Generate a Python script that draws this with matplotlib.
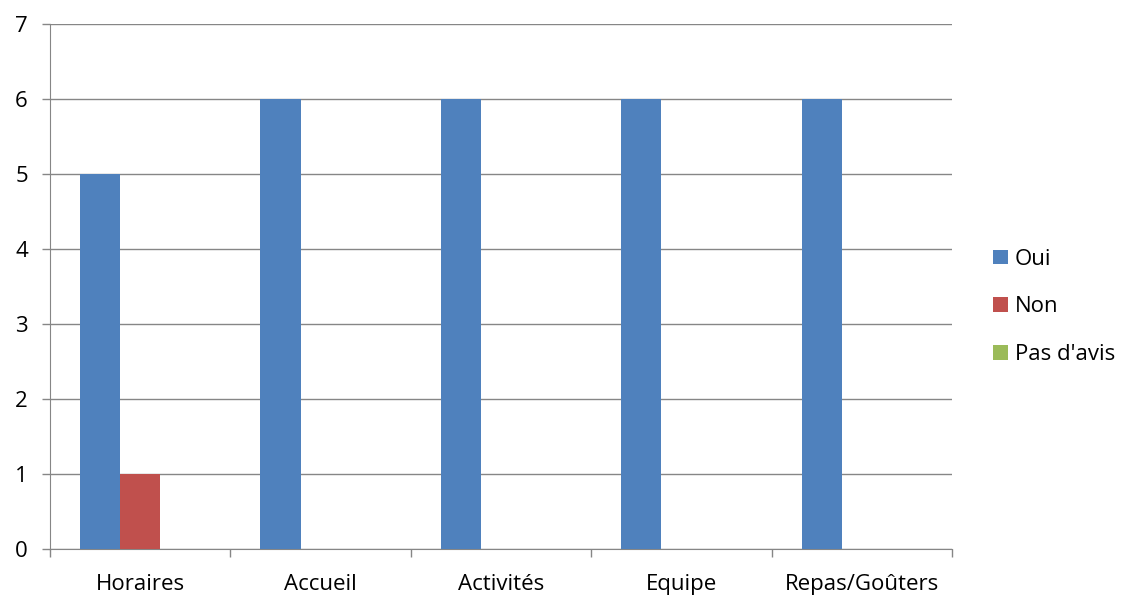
import numpy as np
import matplotlib
matplotlib.use("Agg")
from matplotlib import pyplot as plt
from matplotlib.patches import Patch

# data
categories = ["Horaires", "Accueil", "Activités", "Equipe", "Repas/Goûters"]
oui = [5, 6, 6, 6, 6]
non = [1, 0, 0, 0, 0]
pas_avis = [0, 0, 0, 0, 0]
series_names = ["Oui", "Non", "Pas d'avis"]
colors = ["#4F81BD", "#C0504D", "#9BBB59"]

plt.rcParams['font.family'] = ['Open Sans', 'DejaVu Sans']
fs = 16

fig = plt.figure(figsize=(11.24, 5.96), dpi=100)
ax = fig.add_axes([50 / 1124, 47 / 596, 902 / 1124, 525 / 596])

x = np.arange(len(categories))
w = 2 / 9
for k, (vals, col) in enumerate(zip([oui, non, pas_avis], colors)):
    ax.bar(x + (k - 1) * w, vals, width=w, color=col, zorder=3)

ax.set_xlim(-0.5, len(categories) - 0.5)
ax.set_ylim(0, 7)
ax.set_yticks(range(8))
ax.yaxis.grid(True, color="#868686", linewidth=1, zorder=0)

# category labels between boundary ticks
ax.set_xticks(np.arange(len(categories) + 1) - 0.5)
ax.set_xticklabels([])
ax.set_xticks(x, minor=True)
ax.set_xticklabels(categories, minor=True)
ax.tick_params(axis="x", which="minor", length=0, pad=18, labelsize=fs)
ax.tick_params(axis="x", which="major", length=6, color="#868686", width=1)
ax.tick_params(axis="y", length=6, color="#868686", width=1, labelsize=fs, pad=10)

for side in ["top", "right"]:
    ax.spines[side].set_visible(False)
for side in ["left", "bottom"]:
    ax.spines[side].set_color("#868686")

handles = [Patch(facecolor=c, edgecolor="none") for c in colors]
fig.legend(handles, series_names, loc="center left", bbox_to_anchor=(0.874, 0.485),
           frameon=False, fontsize=fs, handlelength=0.65, handleheight=0.65,
           handletextpad=0.3, labelspacing=1.2, borderpad=0)

fig.savefig("out.png", dpi=100)
